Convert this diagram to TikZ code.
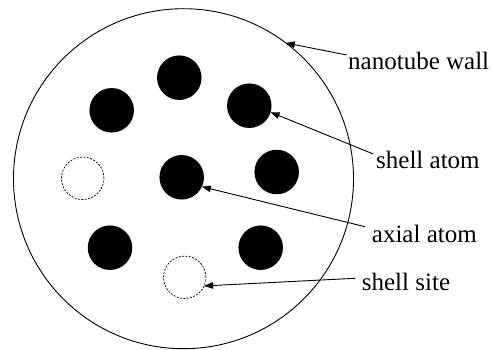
\documentclass[tikz,border=0pt]{standalone}
\usepackage{fontspec}
\setmainfont{Liberation Serif}
\usetikzlibrary{arrows.meta}
\begin{document}
\begin{tikzpicture}[x=1pt,y=-1pt,
  atom/.style={circle,fill=black,inner sep=0pt,outer sep=0pt,minimum size=44.5pt},
  site/.style={circle,draw,line width=0.7pt,dash pattern=on 2pt off 1.4pt,inner sep=0pt,outer sep=0pt,minimum size=42.5pt},
  wallstyle/.style={circle,draw,line width=0.9pt,inner sep=0pt,outer sep=0pt,minimum size=340pt},
  lbl/.style={anchor=base west,inner sep=0pt,font=\fontsize{25}{30}\selectfont},
  pointer/.style={line width=0.9pt,-{Triangle[length=9pt,width=6.5pt]}}]
\useasboundingbox (0,0) rectangle (493,350);
\node[wallstyle] (wall) at (183.5,178.7) {};
\node[atom] (aT) at (179.3,77.7) {};
\node[atom] (aUL) at (111.7,110.3) {};
\node[atom] (aUR) at (249.3,105.7) {};
\node[atom] (aM) at (181.7,177.3) {};
\node[atom] (aR) at (276.7,172) {};
\node[atom] (aLL) at (110,247.7) {};
\node[atom] (aLR) at (260.7,247.7) {};
\node[site] (sL) at (82.7,178.3) {};
\node[site] (sB) at (184.7,277.3) {};
\node[lbl] (lWall) at (348,70) {nanotube wall};
\node[lbl] (lShell) at (376,168.3) {shell atom};
\node[lbl] (lAxial) at (371.7,242.7) {axial atom};
\node[lbl] (lSite) at (361.7,290.7) {shell site};
\coordinate (pWall) at (346.7,55);
\coordinate (pShell) at (373.3,154);
\coordinate (pAxial) at (365,226.7);
\coordinate (pSite) at (355,278.3);
\draw[pointer] (pWall) -- (wall.53);
\draw[pointer] (pShell) -- (aUR.-17);
\draw[pointer] (pAxial) -- (aM.-25);
\draw[pointer] (pSite) -- (sB.-24);
\end{tikzpicture}
\end{document}
